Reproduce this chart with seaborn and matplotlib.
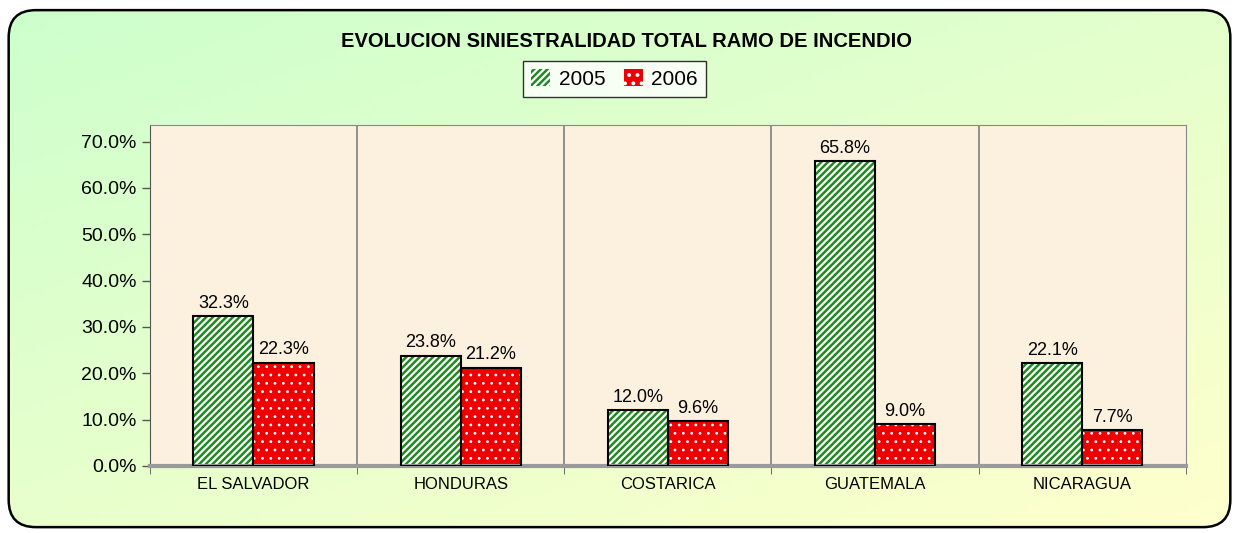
import numpy as np
import pandas as pd
import matplotlib
matplotlib.use("Agg")
import matplotlib.pyplot as plt
import seaborn as sns
from matplotlib.patches import FancyBboxPatch, Rectangle, Patch
from matplotlib.ticker import PercentFormatter, FixedLocator

# data
paises = ["EL SALVADOR", "HONDURAS", "COSTARICA", "GUATEMALA", "NICARAGUA"]
anios = ["2005", "2006"]
sin_2005 = [0.323, 0.238, 0.120, 0.658, 0.221]
sin_2006 = [0.223, 0.212, 0.096, 0.090, 0.077]

df = pd.DataFrame({
    "pais": paises * 2,
    "anio": ["2005"] * len(paises) + ["2006"] * len(paises),
    "valor": sin_2005 + sin_2006,
})

sns.set_style("white")
plt.rcParams["font.family"] = ["Liberation Sans", "DejaVu Sans"]
plt.rcParams["text.color"] = "black"
plt.rcParams["xtick.color"] = "black"
plt.rcParams["ytick.color"] = "black"
plt.rcParams["hatch.linewidth"] = 1.6

fig = plt.figure(figsize=(12.39, 5.33), dpi=100)

# fondo degradado verde (arriba izq) -> amarillo (abajo der)
bg = fig.add_axes([0, 0, 1, 1], zorder=-10)
bg.axis("off")
gx, gy = np.meshgrid(np.linspace(0, 1, 200), np.linspace(0, 1, 100))
t = np.clip(gx * 0.45 + gy * 0.55, 0, 1)
c1 = np.array([0.80, 1.00, 0.80])
c2 = np.array([1.00, 1.00, 0.80])
img = c1[None, None, :] * (1 - t[..., None]) + c2[None, None, :] * t[..., None]
bg.add_patch(Rectangle((0, 0), 1, 1, transform=bg.transAxes, facecolor="white", zorder=0.5))
im = bg.imshow(img, extent=[0, 1, 0, 1], aspect="auto", origin="upper", zorder=1)
box = dict(boxstyle="round,pad=0,rounding_size=0.022", transform=bg.transAxes,
           mutation_aspect=1239 / 533)
clip = FancyBboxPatch((0.007, 0.011), 0.986, 0.970, facecolor="none", edgecolor="none", **box)
bg.add_patch(clip)
im.set_clip_path(clip)
bg.add_patch(FancyBboxPatch((0.007, 0.011), 0.986, 0.970, facecolor="none",
                            edgecolor="black", linewidth=1.8, zorder=3, **box))
bg.set_xlim(0, 1)
bg.set_ylim(0, 1)

ax = fig.add_axes([0.121, 0.126, 0.836, 0.640])
ax.set_facecolor("#FBF1DE")

pal = {"2005": "#1E8A1E", "2006": "#EE0000"}
sns.barplot(data=df, x="pais", y="valor", hue="anio", order=paises,
            hue_order=anios, palette=pal, width=0.58, gap=0,
            edgecolor="white", linewidth=0, saturation=1, ax=ax, legend=False)

hatches = {"2005": "/////", "2006": ".."}
for cont, anio in zip(ax.containers, anios):
    for bar in cont:
        bar.set_hatch(hatches[anio])
        if anio == "2006" and hasattr(bar, "set_hatch_linewidth"):
            bar.set_hatch_linewidth(0.8)
        ax.add_patch(Rectangle((bar.get_x(), bar.get_y()), bar.get_width(), bar.get_height(),
                               fill=False, edgecolor="black", linewidth=1.5, zorder=3))
    ax.bar_label(cont, labels=[f"{v * 100:.1f}%" for v in cont.datavalues],
                 padding=3, fontsize=13)

ax.set_xlim(-0.5, len(paises) - 0.5)
ax.set_ylim(0, 0.7365)
ax.yaxis.set_major_locator(FixedLocator(np.arange(0, 0.71, 0.1)))
ax.yaxis.set_major_formatter(PercentFormatter(xmax=1, decimals=1))
ax.xaxis.set_minor_locator(FixedLocator(np.arange(-0.5, len(paises), 1.0)))
for b in np.arange(0.5, len(paises) - 1, 1.0):
    ax.axvline(b, color="#808080", linewidth=1.2, zorder=0.5)
ax.tick_params(axis="y", labelsize=14, length=6, width=1, direction="out", left=True, color="#555555")
ax.tick_params(axis="x", which="major", labelsize=12, length=0, pad=8)
ax.tick_params(axis="x", which="minor", length=6, bottom=True, color="#555555")
ax.set_xlabel("")
ax.set_ylabel("")
for s in ["top", "right"]:
    ax.spines[s].set_color("#888888")
ax.spines["left"].set_color("#555555")
ax.spines["bottom"].set_linewidth(3)
ax.spines["bottom"].set_color("#9A9A9A")

fig.text(0.506, 0.923, "EVOLUCION SINIESTRALIDAD TOTAL RAMO DE INCENDIO",
         ha="center", va="center", fontsize=14.5, fontweight="bold")

handles = [Patch(facecolor=pal[a], edgecolor="white", hatch=hatches[a]) for a in anios]
leg = fig.legend(handles, anios, loc="center", bbox_to_anchor=(0.496, 0.852), ncol=2,
                 fontsize=15, frameon=True, fancybox=False, edgecolor="black",
                 handlelength=0.9, handleheight=0.9, handletextpad=0.4,
                 columnspacing=0.9, borderpad=0.4)
leg.get_frame().set_linewidth(1.0)
for h in leg.legend_handles:
    h.set_linewidth(0)

fig.savefig("out.png", dpi=100)
